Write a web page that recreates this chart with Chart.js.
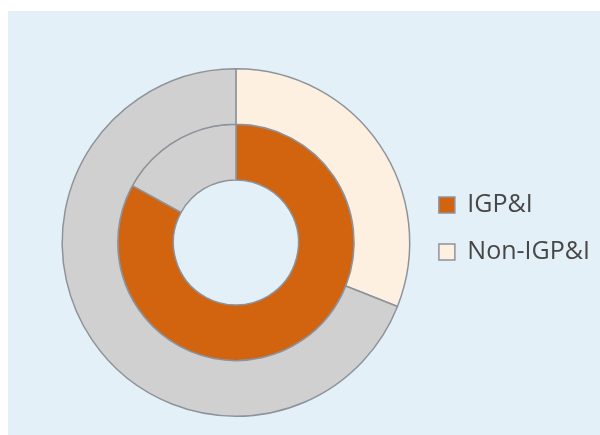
<!DOCTYPE html>
<html>
<head>
<meta charset="utf-8">
<script src="https://cdn.jsdelivr.net/npm/chart.js@4/dist/chart.umd.min.js"></script>
<style>
  body { margin: 0; background: #fff; }
  #panel { position: absolute; left: 8px; top: 11px; width: 592px; height: 424px; background: #e4f0f7; }
</style>
</head>
<body>
<div id="panel"><canvas id="chart" width="592" height="424"></canvas></div>
<script>
const labels = ['IGP&I', 'Non-IGP&I', 'Other'];
const outerValues = [0, 31, 69];
const innerValues = [83, 0, 17];
const colors = ['#d2630f', '#fdf0e0', '#d0d0d0'];

new Chart(document.getElementById('chart'), {
    type: 'doughnut',
    data: {
        labels: labels,
        datasets: [
            { data: outerValues, backgroundColor: colors, borderColor: '#8e939b', borderWidth: 1.5 },
            { data: innerValues, backgroundColor: colors, borderColor: '#8e939b', borderWidth: 1.5 }
        ]
    },
    options: {
        responsive: false,
        animation: false,
        cutout: '36%',
        layout: { padding: { top: 57, bottom: 18, left: 47, right: 0 } },
        plugins: {
            tooltip: { enabled: false },
            legend: {
                position: 'right',
                align: 'start',
                title: { display: true, text: '', padding: { top: 88, bottom: 0 } },
                labels: {
                    filter: item => item.text !== 'Other',
                    boxWidth: 16,
                    boxHeight: 16,
                    padding: 22,
                    color: '#474747',
                    font: { family: 'Open Sans', size: 25 }
                }
            }
        }
    }
});
</script>
</body>
</html>
